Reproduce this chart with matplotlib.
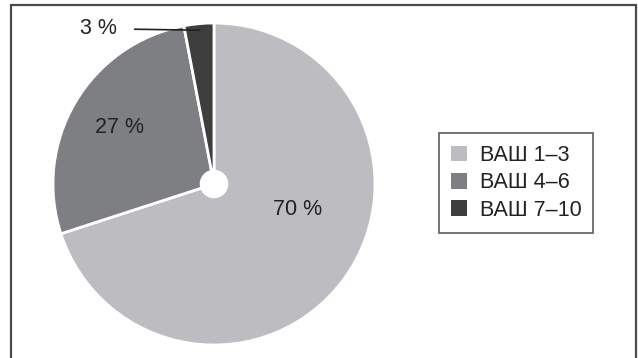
import matplotlib.pyplot as plt
from matplotlib.patches import Rectangle

categories = ['ВАШ 1–3', 'ВАШ 4–6', 'ВАШ 7–10']
shares = [70, 27, 3]
slice_labels = ['70 %', '27 %', '3 %']
colors = ['#bdbdc1', '#7e7f83', '#3e3e3f']

plt.rcParams['font.family'] = ['Liberation Sans', 'DejaVu Sans']
FS = 15.5

W, H = 638, 358
fig = plt.figure(figsize=(W / 100, H / 100), dpi=100)

# pie axes: centre ~ (214, 184) px, radius ~161 px
cx, cy, r = 214, 184, 161
ax = fig.add_axes([(cx - r) / W, (H - cy - r) / H, 2 * r / W, 2 * r / H])
wedges, _ = ax.pie(shares, colors=colors, startangle=90, counterclock=False,
                   radius=1, wedgeprops=dict(width=0.92, edgecolor='white', linewidth=2))
ax.set_xlim(-1, 1)
ax.set_ylim(-1, 1)
ax.set_aspect('equal')
ax.axis('off')

# slice labels
ax.text(0.52, -0.16, slice_labels[0], ha='center', va='center', fontsize=FS, color='#222222')
ax.text(-0.585, 0.35, slice_labels[1], ha='center', va='center', fontsize=FS, color='#222222')
ax.annotate(slice_labels[2], xy=(-0.09, 0.955), xytext=(-0.72, 0.965),
            ha='center', va='center', fontsize=FS, color='#222222',
            arrowprops=dict(arrowstyle='-', color='#222222', lw=1.2,
                            shrinkA=11, shrinkB=0),
            annotation_clip=False)

leg = fig.legend(wedges, categories, loc='upper left',
                 bbox_to_anchor=(439 / W, 1 - 133 / H), bbox_transform=fig.transFigure,
                 borderaxespad=0, fontsize=FS, frameon=True, fancybox=False,
                 handlelength=0.74, handleheight=0.74, handletextpad=0.6,
                 labelspacing=0.3, borderpad=0.55)
leg.get_frame().set_edgecolor('#333333')
leg.get_frame().set_linewidth(1.2)
for t in leg.get_texts():
    t.set_color('#222222')
for h in leg.legend_handles:
    h.set_edgecolor('none')

# outer frame
fig.patches.append(Rectangle((11 / W, -0.05), (636 - 11) / W, 1.05 - 5 / H,
                             transform=fig.transFigure, fill=False,
                             edgecolor='#4a4a4a', linewidth=1.6))

fig.savefig('out.png', dpi=100)
